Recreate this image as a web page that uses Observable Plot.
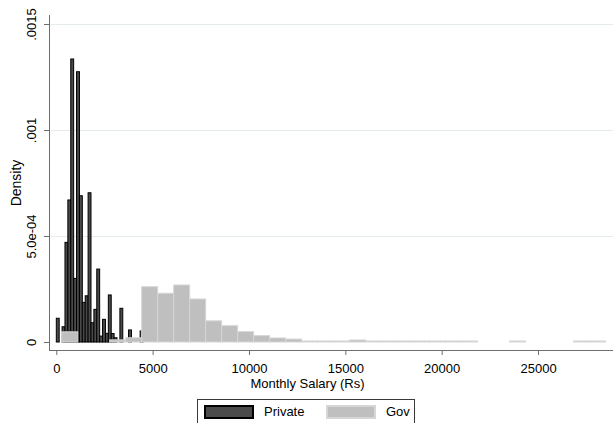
<!DOCTYPE html>
<html>
<head>
<meta charset="utf-8">
<script src="https://cdn.jsdelivr.net/npm/d3@7"></script>
<script src="https://cdn.jsdelivr.net/npm/@observablehq/plot@0.6"></script>
<style>
  body { margin: 0; background: #fff; font-family: "Liberation Sans", Arial, sans-serif; }
  #chart svg { display: block; }
  #legend { position: relative; width: 613px; height: 26px; overflow: hidden; }
  #legend .box { position: absolute; left: 197px; top: 2px; width: 218px; height: 32px; border: 1px solid #3a3a3a; box-sizing: border-box; }
  #legend .sw { position: absolute; top: 5px; width: 50px; height: 14px; box-sizing: border-box; }
  #legend .lab { position: absolute; top: 4px; font-size: 13px; line-height: 16px; color: #000; }
</style>
</head>
<body>
<div id="chart"></div>
<div id="legend"></div>
<script>
// ---- data ----
const seriesNames = ["Private", "Gov"];
const privBinWidth = 150;
const privLo = [0, 300, 450, 600, 750, 900, 1050, 1200, 1350, 1500, 1650, 1800, 1950, 2100, 2250, 2400, 2550, 2700, 2850, 3000, 3300, 3750, 4350];
const privDensity = [0.000112, 0.000072, 0.00047, 0.00067, 0.001335, 0.0003, 0.001275, 0.00069, 0.000187, 0.000218, 0.000704, 0.000091, 0.000154, 0.000344, 0.000028, 0.000107, 0.000041, 0.000222, 0.00004, 0.00002, 0.000159, 0.000057, 0.000052];

const govBinWidth = 830;
const govLo = [280, 2770, 3600, 4430, 5260, 6090, 6920, 7750, 8580, 9410, 10240, 11070, 11900, 12730, 13560, 14390, 15220, 16050, 16880, 17710, 18540, 19370, 20200, 21030, 23520, 26840, 27670];
const govDensity = [0.000048, 0.00001, 0.00002, 0.000261, 0.00023, 0.000269, 0.000203, 0.0001, 0.000077, 0.000049, 0.00003, 0.000019, 0.000014, 0.000005, 0.000005, 0.000005, 0.0000095, 0.000005, 0.000005, 0.000005, 0.000005, 0.000005, 0.000005, 0.000005, 0.000005, 0.000005, 0.000005];

const xTicks = [0, 5000, 10000, 15000, 20000, 25000];
const yTicks = [0, 0.0005, 0.001, 0.0015];
const yTickLabels = ["0", "5.0e-04", ".001", ".0015"];
const xTitle = "Monthly Salary (Rs)";
const yTitle = "Density";

const xDomain = [-379, 28890];
const yDomain = [-0.0000377, 0.0015425];

// ---- build tables ----
const priv = privLo.map((lo, i) => ({x1: lo, x2: lo + privBinWidth, d: privDensity[i]}));
const gov = govLo.map((lo, i) => ({x1: lo, x2: lo + govBinWidth, d: govDensity[i]}));

const axisColor = "#6e6e6e";

const chart = Plot.plot({
  width: 613,
  height: 397,
  marginLeft: 49,
  marginRight: 0,
  marginTop: 15,
  marginBottom: 47,
  style: {fontFamily: "Liberation Sans, Arial, sans-serif", fontSize: "13px", background: "#fff", color: "#000"},
  x: {domain: xDomain},
  y: {domain: yDomain},
  marks: [
    Plot.gridY({ticks: yTicks.slice(1), stroke: "#e4ecee", strokeOpacity: 1, strokeWidth: 1}),
    Plot.rect(priv, {x1: "x1", x2: "x2", y1: 0, y2: "d", fill: "#4a4a4a", stroke: "#000", strokeWidth: 1}),
    Plot.rect(gov, {x1: "x1", x2: "x2", y1: 0, y2: "d", fill: "#bfbfbf", stroke: "#d6d6d6", strokeWidth: 1}),
    Plot.ruleX([xDomain[0]], {stroke: axisColor, strokeWidth: 1}),
    Plot.ruleY([yDomain[0]], {stroke: axisColor, strokeWidth: 1}),
    Plot.axisX({ticks: xTicks, tickSize: 5, tickPadding: 8, tickFormat: d3.format("d"), label: null, stroke: axisColor, fill: "#000", fontSize: 13}),
    Plot.axisY({ticks: yTicks, tickSize: 5, tickFormat: () => "", label: null, stroke: axisColor}),
    Plot.text(yTicks, {y: d => d, text: (d, i) => yTickLabels[i], frameAnchor: "left", dx: -14, rotate: -90, textAnchor: "middle", lineAnchor: "bottom", fontSize: 13, fill: "#000"}),
    Plot.text([yTitle], {text: d => d, frameAnchor: "left", dx: -29, rotate: -90, textAnchor: "middle", lineAnchor: "bottom", fontSize: 14, fill: "#000"}),
    Plot.text([xTitle], {text: d => d, frameAnchor: "bottom", dx: -24, dy: 28, lineAnchor: "top", fontSize: 13, fill: "#000"})
  ]
});
document.getElementById("chart").appendChild(chart);

// ---- legend ----
const leg = document.getElementById("legend");
const box = document.createElement("div");
box.className = "box";
leg.appendChild(box);
const items = [
  {name: seriesNames[0], fill: "#4a4a4a", border: "2px solid #000", sx: 6, tx: 66},
  {name: seriesNames[1], fill: "#bfbfbf", border: "2px solid #d6d6d6", sx: 128, tx: 188}
];
for (const it of items) {
  const sw = document.createElement("div");
  sw.className = "sw";
  sw.style.left = it.sx + "px";
  sw.style.background = it.fill;
  sw.style.border = it.border;
  box.appendChild(sw);
  const lab = document.createElement("div");
  lab.className = "lab";
  lab.style.left = it.tx + "px";
  lab.textContent = it.name;
  box.appendChild(lab);
}
</script>
</body>
</html>
